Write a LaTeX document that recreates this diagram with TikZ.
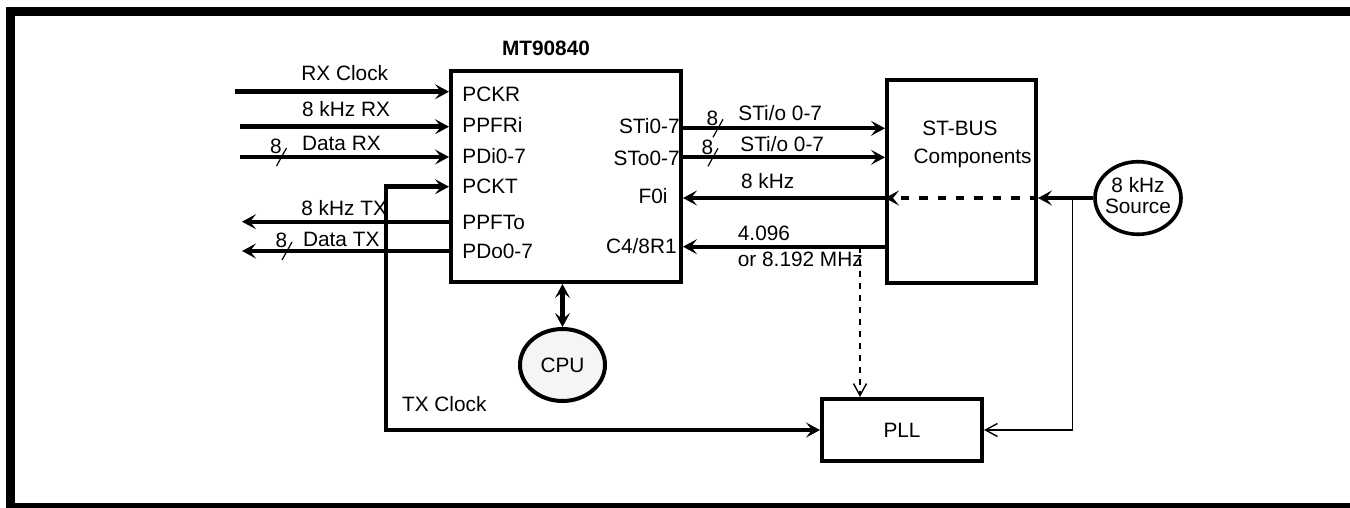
\documentclass[tikz,border=0pt]{standalone}
\usepackage{fontspec}
\setmainfont{Liberation Sans}
\usepackage{tikz}
\usetikzlibrary{arrows.meta,positioning,calc,shapes.geometric}

\tikzset{
  bigtip/.tip={Stealth[length=7pt,width=7.5pt,inset=3pt]},
  opentip/.tip={Straight Barb[length=6pt,width=6.5pt]},
}
% bus width mark: slash through the wire plus the "8"
\newcommand{\busmark}[2]{%
  \draw[line width=0.6pt] ($(#2)+(-5,9)$) -- ($(#2)+(5,-9)$);
  \node[lbl,anchor=base east] (#1) at ($(#2)+(0.5,-3)$) {8};}

\begin{document}
\begin{tikzpicture}[x=0.5pt,y=-0.5pt,
  every node/.style={inner sep=0pt},
  lbl/.style={font=\fontsize{10.4}{10.4}\selectfont},
  blk/.style={draw,line width=2pt,anchor=north west,lbl},
  wire/.style={line width=2.2pt},
  fine/.style={line width=0.7pt}]
  \useasboundingbox (0,0) rectangle (1350,508);
  \clip (0,0) rectangle (1350,508);
  \draw[line width=4.5pt] (10.5,11.5) rectangle (1360,507.8);

  % blocks
  \node[blk,minimum width=115pt,minimum height=105.5pt] (mt) at (449,69) {};
  \node[lbl,font=\fontsize{10.4}{10.4}\selectfont\bfseries,anchor=base] (mtname) at (546,56) {MT90840};
  \node[blk,minimum width=74.5pt,minimum height=101.5pt] (stbus) at (885,78) {};
  \node[lbl,anchor=base west] (stbus1) at (922,135) {ST-BUS};
  \node[lbl,anchor=base west] (stbus2) at (913.3,163.3) {Components};
  \node[blk,anchor=center,minimum width=80pt,minimum height=31pt] (pll) at (902,430) {PLL};
  \node[draw,ellipse,line width=2pt,fill=black!4,lbl,minimum width=42.5pt,minimum height=36pt] (cpu) at (562.5,365) {CPU};
  \node[draw,ellipse,line width=1.8pt,lbl,align=center,inner xsep=-4pt,text depth=2.5pt,
        minimum width=43pt,minimum height=36.3pt] (src) at (1138,198) {8 kHz\\Source};

  % pin names
  \foreach \n/\t/\y in {pckr/PCKR/102, ppfri/PPFRi/132.5, pdi/PDi0-7/163, pckt/PCKT/193, ppfto/PPFTo/229, pdo/PDo0-7/258}
    \node[lbl,anchor=base west] (\n) at (462,\y) {\t};
  \foreach \n/\t/\x/\y in {sti/STi0-7/680/133.5, sto/STo0-7/680/165, f0i/F0i/668/203.5, c4r/{C4/8R1}/677/253.5}
    \node[lbl,anchor=base east] (\n) at (\x,\y) {\t};

  % parallel port side
  \coordinate (rxclk) at (235,91.7);
  \coordinate (rxfr) at (240,126.7);
  \coordinate (rxdat) at (240,157);
  \coordinate (txfr) at (242,221.7);
  \coordinate (txdat) at (242,251);
  \draw[wire,-bigtip] (rxclk) -- (rxclk -| mt.west);
  \draw[wire,-bigtip] (rxfr) -- (rxfr -| mt.west);
  \draw[wire,-bigtip] (rxdat) -- (rxdat -| mt.west);
  \draw[wire,-bigtip] (txfr -| mt.west) -- (txfr);
  \draw[wire,-bigtip] (txdat -| mt.west) -- (txdat);
  \node[lbl,anchor=base west] (lrxclk) at (301,80.7) {RX Clock};
  \node[lbl,anchor=base west] (lrxfr) at (301.7,116.7) {8 kHz RX};
  \node[lbl,anchor=base west] (lrxdat) at (301.7,150.5) {Data RX};
  \node[lbl,anchor=base west] (ltxfr) at (301,215) {8 kHz TX};
  \node[lbl,anchor=base west] (ltxdat) at (302.7,246.7) {Data TX};
  \busmark{bmrx}{281.5,157}
  \busmark{bmtx}{287,251}

  % TX clock loop through the PLL
  \coordinate (txc) at (385.7,186.7);
  \draw[wire,bigtip-bigtip] (txc -| mt.west) -- (txc) |- (pll.west);
  \node[lbl,anchor=base west] (ltxc) at (401.7,411.7) {TX Clock};

  % ST-BUS side
  \coordinate (ysti) at (0,128.3);
  \coordinate (ysto) at (0,157.3);
  \coordinate (yc4) at (0,246.7);
  \draw[wire,-bigtip] (mt.east |- ysti) -- (stbus.west |- ysti);
  \draw[wire,-bigtip] (mt.east |- ysto) -- (stbus.west |- ysto);
  \draw[wire,-bigtip] (stbus.west |- src.west) -- (mt.east |- src.west);
  \draw[wire,-bigtip] (stbus.west |- yc4) -- (mt.east |- yc4);
  \draw[wire,dash pattern=on 4.2pt off 5pt,-bigtip] (stbus.east |- src.west) -- (stbus.west |- src.west);
  \draw[wire,-bigtip] (src.west) -- (stbus.east |- src.west);
  \busmark{bmsti}{718,128.3}
  \busmark{bmsto}{713,157.3}
  \node[lbl,anchor=base west] (lsti) at (738,120.7) {STi/o 0-7};
  \node[lbl,anchor=base west] (lsto) at (740,151.7) {STi/o 0-7};
  \node[lbl,anchor=base west] (lf0i) at (740.7,188.3) {8 kHz};
  \node[lbl,anchor=base west,align=left] (lc4) at (737.5,266) {4.096\\[2.6pt]or 8.192 MHz};

  % CPU and PLL references
  \draw[wire,bigtip-bigtip] (cpu.north |- mt.south) -- (cpu.north);
  \coordinate (c4tap) at (860,246.7);
  \coordinate (srctap) at (1072.7,198);
  \draw[fine,dash pattern=on 3pt off 3pt,-opentip] (c4tap) -- (c4tap |- pll.north);
  \draw[fine,-opentip] (srctap) |- (pll.east);
\end{tikzpicture}
\end{document}
